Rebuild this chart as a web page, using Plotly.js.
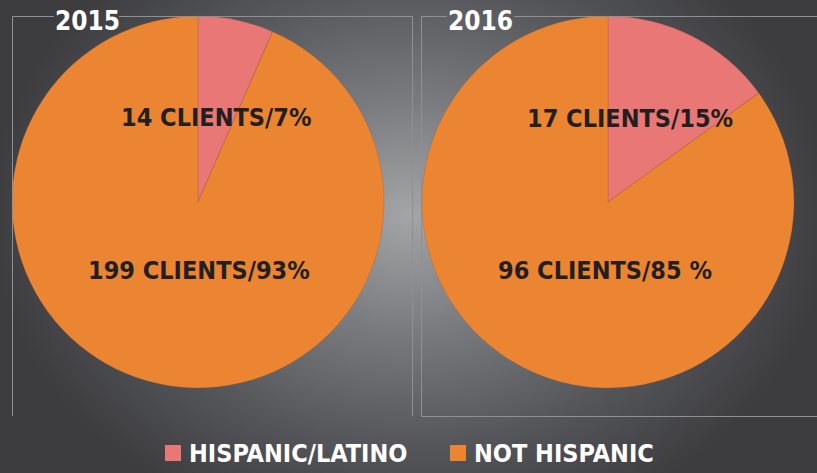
<!DOCTYPE html>
<html>
<head>
<meta charset="utf-8">
<script src="https://cdn.plot.ly/plotly-3.0.1.min.js"></script>
<style>
  html, body { margin: 0; padding: 0; }
  body {
    width: 817px; height: 473px; overflow: hidden;
    background: radial-gradient(ellipse 420px 330px at 410px 215px, #a4a5a7 0%, #7a7b7e 35%, #55565a 70%, #3d3d40 100%);
  }
  #chart { width: 817px; height: 473px; }
</style>
</head>
<body>
<div id="chart"></div>
<script>
const years = ["2015", "2016"];
const categories = ["HISPANIC/LATINO", "NOT HISPANIC"];
const clients2015 = [14, 199];
const clients2016 = [17, 96];
const labels2015 = ["14 CLIENTS/7%", "199 CLIENTS/93%"];
const labels2016 = ["17 CLIENTS/15%", "96 CLIENTS/85 %"];
const colors = ["#E97775", "#EB8531"];

const W = 817, H = 473;
const px = x => x / W;
const py = y => 1 - y / H;

const FONT = "'DejaVu Sans Condensed', 'Liberation Sans Narrow', sans-serif";

function pie(values, dom) {
  return {
    type: "pie", values: values, labels: categories,
    sort: false, direction: "clockwise", rotation: 0,
    marker: { colors: colors, line: { color: "rgba(150,80,60,0.5)", width: 0.5 } },
    textinfo: "none", hoverinfo: "label+value+percent",
    domain: dom, showlegend: false
  };
}

const data = [
  pie(clients2015, { x: [px(12), px(384)], y: [py(388), py(16)] }),
  pie(clients2016, { x: [px(422), px(794)], y: [py(388), py(16)] })
];

const lineStyle = { color: "#8f9093", width: 1 };
const shapes = [
  // left box
  { type: "line", xref: "paper", yref: "paper", x0: px(12.5), x1: px(12.5), y0: py(16.5), y1: py(416), line: lineStyle },
  { type: "line", xref: "paper", yref: "paper", x0: px(12.5), x1: px(54), y0: py(16.5), y1: py(16.5), line: lineStyle },
  { type: "line", xref: "paper", yref: "paper", x0: px(119), x1: px(412.5), y0: py(16.5), y1: py(16.5), line: lineStyle },
  { type: "line", xref: "paper", yref: "paper", x0: px(412.5), x1: px(412.5), y0: py(16.5), y1: py(416), line: lineStyle },
  // right box
  { type: "line", xref: "paper", yref: "paper", x0: px(421.5), x1: px(421.5), y0: py(16.5), y1: py(416.5), line: lineStyle },
  { type: "line", xref: "paper", yref: "paper", x0: px(421.5), x1: px(447), y0: py(16.5), y1: py(16.5), line: lineStyle },
  { type: "line", xref: "paper", yref: "paper", x0: px(514), x1: px(817), y0: py(16.5), y1: py(16.5), line: lineStyle },
  { type: "line", xref: "paper", yref: "paper", x0: px(421.5), x1: px(817), y0: py(416.5), y1: py(416.5), line: lineStyle }
];

const textColor = "#231f20";
const lblFont = { family: FONT, size: 25, color: textColor, weight: 700 };
const titleFont = { family: FONT, size: 26, color: "#ffffff", weight: 700 };
const ann = (text, x, y, font, xanchor) => ({
  text: text, x: px(x), y: py(y), xref: "paper", yref: "paper",
  xanchor: xanchor || "center", yanchor: "middle", showarrow: false, font: font
});
const annotations = [
  ann(years[0], 87, 21, titleFont),
  ann(years[1], 481, 21, titleFont),
  ann(labels2015[0], 216, 118, lblFont),
  ann(labels2015[1], 199, 270, lblFont),
  ann(labels2016[0], 630, 119, lblFont),
  ann(labels2016[1], 605, 270, lblFont)
];

// legend (custom)
const legX = [165, 450];
const legFont = { family: FONT, size: 25, color: "#ffffff", weight: 700 };
categories.forEach((c, i) => {
  shapes.push({ type: "rect", xref: "paper", yref: "paper", x0: px(legX[i]), x1: px(legX[i] + 16), y0: py(461), y1: py(445), fillcolor: colors[i], line: { width: 0 } });
  annotations.push(ann(c, legX[i] + 22, 453, legFont, "left"));
});

const layout = {
  width: W, height: H,
  margin: { l: 0, r: 0, t: 0, b: 0 },
  paper_bgcolor: "rgba(0,0,0,0)", plot_bgcolor: "rgba(0,0,0,0)",
  showlegend: false,
  shapes: shapes, annotations: annotations
};

Plotly.newPlot("chart", data, layout, { displayModeBar: false, staticPlot: true });
</script>
</body>
</html>
